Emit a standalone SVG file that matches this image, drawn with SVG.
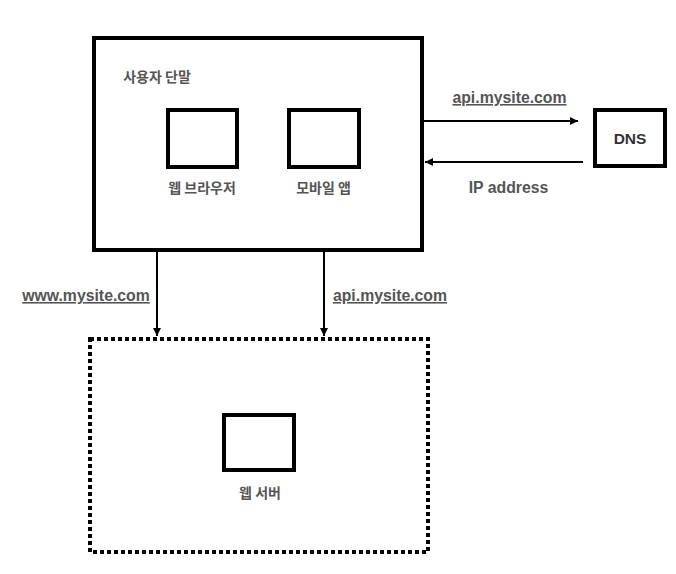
<svg xmlns="http://www.w3.org/2000/svg" width="676" height="574" viewBox="0 0 676 574">
  <defs>
    <style>
      .box { fill: none; stroke: #000; stroke-width: 4; }
      .dashed { fill: none; stroke: #000; stroke-width: 4; stroke-dasharray: 4 3; }
      .line { fill: none; stroke: #000; stroke-width: 2; }
      .ko { font-family: "Noto Sans CJK KR", "Noto Sans", sans-serif; font-size: 14px; font-weight: bold; fill: #555; text-anchor: middle; }
      .lbl { font-family: "Liberation Sans", Arial, sans-serif; font-size: 15.8px; font-weight: bold; fill: #555; text-anchor: middle; }
      .ul { text-decoration: underline; }
      .dns { font-family: "Liberation Sans", Arial, sans-serif; font-size: 15.5px; font-weight: bold; fill: #333; text-anchor: middle; }
    </style>
    <marker id="arrow" viewBox="0 0 10 10" refX="10" refY="5" markerWidth="4" markerHeight="4" orient="auto" markerUnits="strokeWidth">
      <path d="M0,0 L10,5 L0,10 z" fill="#000"/>
    </marker>
  </defs>
  <rect width="676" height="574" fill="#fff"/>

  <g id="client">
    <rect class="box" x="94" y="38" width="328" height="212"/>
    <text class="ko" x="157" y="82">사용자 단말</text>
  </g>
  <g id="web-browser">
    <rect class="box" x="168" y="110" width="69" height="57"/>
    <text class="ko" x="202" y="193">웹 브라우저</text>
  </g>
  <g id="mobile-app">
    <rect class="box" x="289" y="110" width="70" height="57"/>
    <text class="ko" x="323.5" y="193">모바일 앱</text>
  </g>
  <g id="dns">
    <rect class="box" x="595" y="110" width="70" height="56"/>
    <text class="dns" x="630" y="144">DNS</text>
  </g>
  <g id="web-server-group">
    <rect class="dashed" x="90" y="339" width="338" height="213"/>
  </g>
  <g id="web-server">
    <rect class="box" x="224" y="415" width="70" height="55"/>
    <text class="ko" x="260" y="498">웹 서버</text>
  </g>

  <g id="connectors">
    <line class="line" x1="424" y1="121" x2="578" y2="121" marker-end="url(#arrow)"/>
    <line class="line" x1="583" y1="162" x2="425" y2="162" marker-end="url(#arrow)"/>
    <line class="line" x1="157" y1="252" x2="157" y2="336" marker-end="url(#arrow)"/>
    <line class="line" x1="324" y1="252" x2="324" y2="336" marker-end="url(#arrow)"/>
    <text class="lbl ul" x="509.5" y="103">api.mysite.com</text>
    <text class="lbl" x="508.5" y="193">IP address</text>
    <text class="lbl ul" x="86" y="301">www.mysite.com</text>
    <text class="lbl ul" x="390" y="301">api.mysite.com</text>
  </g>
</svg>
